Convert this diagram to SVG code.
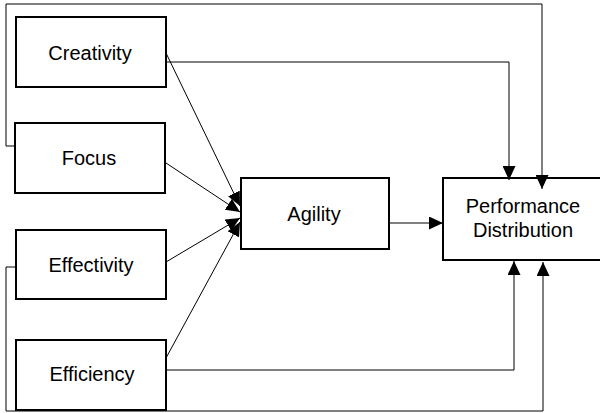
<svg xmlns="http://www.w3.org/2000/svg" width="600" height="413" viewBox="0 0 600 413">
<style>
.box{fill:#fff;stroke:#000;stroke-width:2}
.lbl{font-family:"Liberation Sans",Arial,sans-serif;font-size:20px;fill:#000;text-anchor:middle}
.con{fill:none;stroke:#000;stroke-width:1}
</style>
<defs>
<marker id="ah" viewBox="0 0 14 13" refX="14" refY="6.5" markerWidth="14" markerHeight="13" markerUnits="userSpaceOnUse" orient="auto">
<path d="M0,0 L14,6.5 L0,13 Z" fill="#000"/>
</marker>
</defs>
<rect width="600" height="413" fill="#fff"/>
<g id="creativity"><rect class="box" x="16" y="17" width="150" height="70"/><text class="lbl" x="90" y="60">Creativity</text></g>
<g id="focus"><rect class="box" x="15" y="123" width="150" height="70"/><text class="lbl" x="89" y="165">Focus</text></g>
<g id="effectivity"><rect class="box" x="16" y="230" width="150" height="69"/><text class="lbl" x="91" y="272">Effectivity</text></g>
<g id="efficiency"><rect class="box" x="16" y="340" width="150" height="70"/><text class="lbl" x="92" y="381">Efficiency</text></g>
<g id="agility"><rect class="box" x="241" y="178" width="148" height="71"/><text class="lbl" x="314" y="221">Agility</text></g>
<g id="performance"><rect class="box" x="443" y="178" width="160" height="82"/><text class="lbl" x="523" y="213">Performance</text><text class="lbl" x="523" y="237">Distribution</text></g>
<g id="connectors">
<polyline class="con" points="14,146 6,146 6,4 542,4 542,189" marker-end="url(#ah)"/>
<polyline class="con" points="167,62 509,62 509,180" marker-end="url(#ah)"/>
<line class="con" x1="166" y1="53" x2="240" y2="206" marker-end="url(#ah)"/>
<line class="con" x1="166" y1="163" x2="240" y2="212" marker-end="url(#ah)"/>
<line class="con" x1="166" y1="262" x2="240" y2="218" marker-end="url(#ah)"/>
<line class="con" x1="166" y1="358" x2="240" y2="222" marker-end="url(#ah)"/>
<line class="con" x1="389" y1="223" x2="443" y2="223" marker-end="url(#ah)"/>
<polyline class="con" points="166,370 514,370 514,261" marker-end="url(#ah)"/>
<polyline class="con" points="16,267 6,267 6,411 543,411 543,262" marker-end="url(#ah)"/>
</g>
</svg>
